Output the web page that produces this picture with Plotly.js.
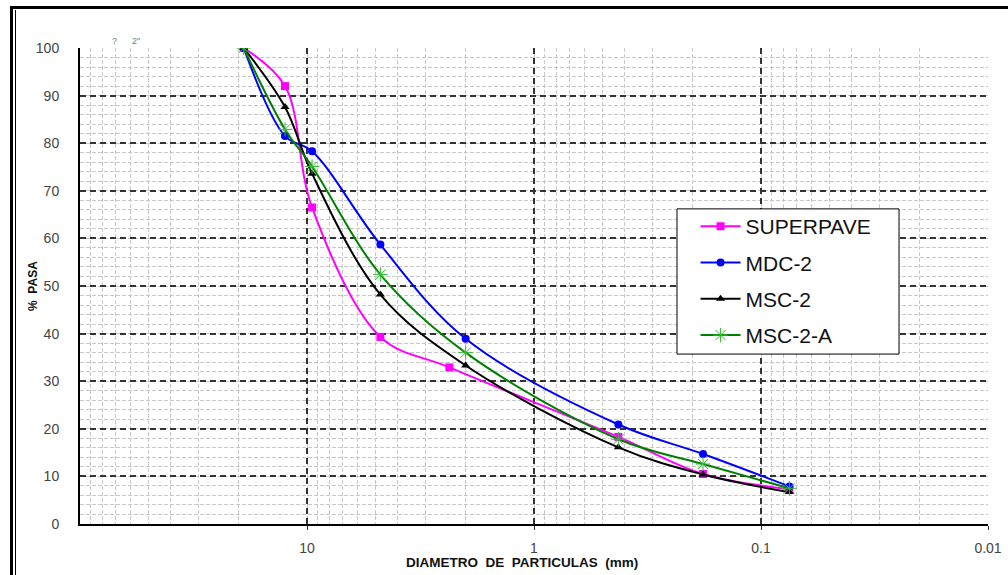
<!DOCTYPE html>
<html>
<head>
<meta charset="utf-8">
<script src="https://cdn.plot.ly/plotly-3.0.1.min.js"></script>
<style>
  html, body { margin: 0; padding: 0; background: #fff; }
  #wrap { position: relative; width: 1008px; height: 575px; overflow: hidden; }
  #chart { position: absolute; left: 0; top: 0; width: 1008px; height: 575px; }
  .bd { position: absolute; background: #000; }
</style>
</head>
<body>
<div id="wrap">
  <div id="chart"></div>
  <div class="bd" style="left:10px;top:6px;width:3px;height:569px;"></div>
  <div class="bd" style="left:15px;top:10px;width:1px;height:565px;"></div>
  <div class="bd" style="left:10px;top:6px;width:998px;height:3px;"></div>
</div>
<script>
// ---- data ----
const seriesNames = ["SUPERPAVE", "MDC-2", "MSC-2", "MSC-2-A"];

const superpaveSize = [19, 12.5, 9.5, 4.75, 2.36, 0.425, 0.18, 0.075];
const superpavePass = [100, 92, 66.5, 39.3, 32.9, 18.3, 10.5, 7.3];

const mdc2Size = [19, 12.5, 9.5, 4.75, 2.0, 0.425, 0.18, 0.075];
const mdc2Pass = [100, 81.5, 78.3, 58.7, 38.9, 20.9, 14.7, 7.9];

const msc2Size = [19, 12.5, 9.5, 4.75, 2.0, 0.425, 0.18, 0.075];
const msc2Pass = [100, 87.6, 73.6, 48.2, 33.3, 16.1, 10.4, 6.7];

const msc2aSize = [19, 12.5, 9.5, 4.75, 2.0, 0.425, 0.18, 0.075];
const msc2aPass = [100, 82.9, 75.1, 52.4, 36.0, 17.8, 12.6, 7.5];

const xTickVals = [10, 1, 0.1, 0.01];
const xTickText = ["10", "1", "0.1", "0.01"];
const yTickVals = [0, 10, 20, 30, 40, 50, 60, 70, 80, 90, 100];
const xTitle = "DIAMETRO  DE  PARTICULAS  (mm)";
const yTitle = "%  PASA";

// ---- traces ----
function tr(name, x, y, color, sym, msize, mcolor, group) {
  return {
    type: "scatter", mode: "lines+markers", name: name, x: x, y: y,
    legendgroup: group,
    line: { color: color, width: 2, shape: "spline", smoothing: 1 },
    marker: { symbol: sym, size: msize, color: mcolor || color,
              line: { color: mcolor || color, width: sym === "asterisk-open" ? 1 : 0 } },
    hoverinfo: "skip"
  };
}
const data = [
  tr(seriesNames[0], superpaveSize, superpavePass, "#FF00FF", "square", 8, null, "g1"),
  tr(seriesNames[1], mdc2Size, mdc2Pass, "#0000FF", "circle", 8, null, "g2"),
  tr(seriesNames[2], msc2Size, msc2Pass, "#000000", "triangle-up", 8, null, "g3"),
  tr(seriesNames[3], msc2aSize, msc2aPass, "#008000", "asterisk-open", 12, "#33BB33", "g4")
];

const FONT = "Arial, 'Liberation Sans', sans-serif";
const layout = {
  width: 1008, height: 575,
  margin: { l: 80, r: 20, t: 48, b: 51 },
  paper_bgcolor: "#ffffff", plot_bgcolor: "#ffffff",
  font: { family: FONT, color: "#333" },
  showlegend: true,
  legend: {
    x: 0.657, y: 0.668, xanchor: "left", yanchor: "top",
    bgcolor: "rgba(0,0,0,0)", borderwidth: 0,
    font: { size: 21, color: "#111", family: FONT },
    tracegroupgap: 6, itemwidth: 40, indentation: 19
  },
  shapes: [
    { type: "rect", xref: "paper", yref: "paper", x0: 0.6575, x1: 0.902, y0: 0.357, y1: 0.662,
      fillcolor: "#ffffff", line: { color: "#000", width: 1 }, layer: "above" }
  ],
  xaxis: {
    type: "log", range: [2, -2],
    tickvals: xTickVals, ticktext: xTickText,
    tickfont: { size: 14, color: "#444", family: FONT },
    ticks: "outside", ticklen: 4, tickcolor: "#333", ticklabelstandoff: 6,
    showline: true, linecolor: "#000", linewidth: 2,
    showgrid: true, gridcolor: "#333", gridwidth: 2, griddash: "6px,4px",
    minor: { dtick: "D1", showgrid: true, gridcolor: "#c8c8c8", gridwidth: 1, griddash: "4px,2px", ticks: "" },
    zeroline: false
  },
  yaxis: {
    range: [0, 100], tickvals: yTickVals,
    tickfont: { size: 14, color: "#444", family: FONT },
    ticks: "", ticklabelstandoff: 16,
    showline: true, linecolor: "#000", linewidth: 2,
    showgrid: true, gridcolor: "#333", gridwidth: 2, griddash: "6px,4px",
    minor: { dtick: 2, showgrid: true, gridcolor: "#c8c8c8", gridwidth: 1, griddash: "4px,2px" },
    zeroline: false
  },
  annotations: [
    { xref: "paper", yref: "paper", x: 0.487, y: -0.08, xanchor: "center", yanchor: "middle",
      text: "<b>" + xTitle + "</b>", showarrow: false, font: { size: 13.5, color: "#111", family: FONT } },
    { xref: "paper", yref: "paper", x: -0.0518, y: 0.5, xanchor: "center", yanchor: "middle", textangle: -90,
      text: "<b>" + yTitle + "</b>", showarrow: false, font: { size: 12, color: "#111", family: FONT } },
    { xref: "paper", yref: "paper", x: 0.0385, y: 1.0, xanchor: "center", yanchor: "bottom",
      text: "?", showarrow: false, font: { size: 9, color: "#777" } },
    { xref: "paper", yref: "paper", x: 0.062, y: 1.0, xanchor: "center", yanchor: "bottom",
      text: "2\"", showarrow: false, font: { size: 9, color: "#777" } }
  ]
};

Plotly.newPlot("chart", data, layout, { displayModeBar: false, staticPlot: true });
</script>
</body>
</html>
